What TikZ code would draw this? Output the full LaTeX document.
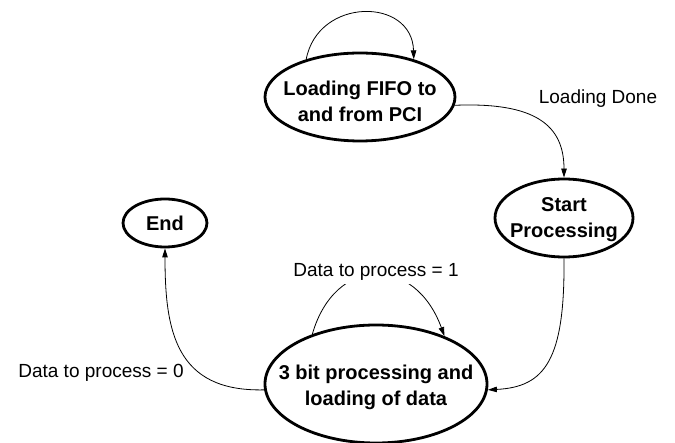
\documentclass[tikz,border=0pt]{standalone}
\usepackage{fontspec}
\setmainfont{Liberation Sans}
\usetikzlibrary{shapes.geometric,arrows.meta}
\tikzset{
  statebox/.style={ellipse, draw=black, line width=2.8pt, inner sep=0pt},
  stxt/.style={font=\fontsize{20}{26}\selectfont\bfseries, align=center, inner sep=0pt},
  lbl/.style={font=\fontsize{19}{23}\selectfont, inner sep=3pt, anchor=base},
  conn/.style={draw=black, line width=0.8pt, -{Triangle[length=9pt,width=5.5pt]}},
}
\begin{document}
\begin{tikzpicture}[x=1pt,y=-1pt]
\useasboundingbox (0,0) rectangle (675,443);
\node[statebox, minimum width=190pt, minimum height=88pt] (a1) at (360,97) {};
\node[stxt] (a1t) at (360,101) {Loading FIFO to\\and from PCI};
\node[statebox, minimum width=138pt, minimum height=78pt] (b) at (564,218) {};
\node[stxt] (bt) at (564,220) {Start\\Processing};
\node[statebox, minimum width=222pt, minimum height=118pt] (c) at (376,384) {};
\node[stxt] (ct) at (376,387) {3 bit processing and\\loading of data};
\node[statebox, minimum width=84pt, minimum height=48pt] (e) at (165,223) {};
\node[stxt] (et) at (165,223) {End};

\draw[conn] (a1.145) .. controls (318,-3) and (412,-3) .. (a1.35);
\draw[conn] (a1.-5) .. controls (535,102) and (564,125) .. (b.north);
\draw[conn] (b.south) .. controls (565,360) and (545,387) .. (c.-3);
\draw[conn] (c.142) .. controls (335,255) and (415,255) .. (c.35);
\draw[conn] (c.183) .. controls (175,392) and (165,330) .. (e.south);

\node[lbl] (l1) at (598,104) {Loading Done};
\node[lbl, fill=white] (l2) at (376,277) {Data to process = 1};
\node[lbl] (l3) at (101,378) {Data to process = 0};
\end{tikzpicture}
\end{document}
